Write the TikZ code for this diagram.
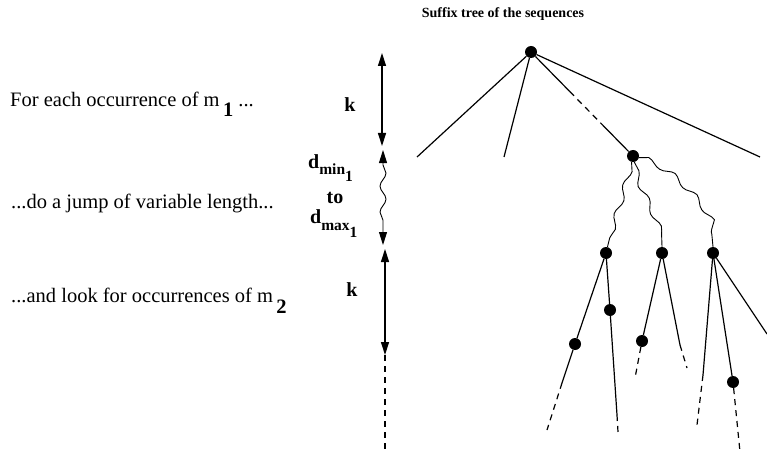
\documentclass[tikz,border=0pt]{standalone}
\usepackage{fontspec}
\setmainfont{Liberation Serif}
\usetikzlibrary{arrows.meta,decorations.pathmorphing,calc}
\begin{document}
\begin{tikzpicture}[x=1pt,y=-1pt,
  >={Triangle[length=13pt,width=8pt]},
  dot/.style={circle,fill,inner sep=0pt,minimum size=12pt},
  edge/.style={line width=1.2pt},
  dashedge/.style={line width=1.2pt,dash pattern=on 6pt off 5pt},
  wavy/.style={line width=0.9pt,decorate,decoration={snake,amplitude=2.8pt,segment length=30pt}},
  dbl/.style={line width=1.3pt,<->},
  body/.style={font=\fontsize{20.5}{24}\selectfont,anchor=base west,inner sep=0pt},
  lbl/.style={font=\fontsize{20}{22}\selectfont\bfseries,inner sep=0pt,anchor=base}]
\useasboundingbox (0,0) rectangle (767,457);

% title
\node[font=\fontsize{14}{16}\selectfont\bfseries,anchor=base] (title) at (503,18) {Suffix tree of the sequences};

% left texts
\node[body] (txt1) at (10,107) {For each occurrence of m\,\raisebox{-10pt}{\textbf{1}} ...};
\node[body] (txt2) at (11,208) {...do a jump of variable length...};
\node[body] (txt3) at (11,302) {...and look for occurrences of m\,\raisebox{-11pt}{\textbf{2}}};

% axis
\coordinate (a1) at (382,53);
\coordinate (a2) at (382,146);
\coordinate (w1) at (383,150);
\coordinate (w2) at (383,245);
\coordinate (b1) at (385,249);
\coordinate (b2) at (385,355);
\coordinate (b3) at (385,452);
\draw[dbl] (a1) -- (a2);
\draw[line width=0.9pt,<->,decorate,decoration={snake,amplitude=3pt,segment length=26pt,pre length=15pt,post length=15pt}] (w1) -- (w2);
\draw[dbl] (b1) -- (b2);
\draw[dashedge] (b2) -- (b3);

\node[lbl] (k1) at (350,112) {k};
\node[lbl] (k2) at (352,296) {k};
\node[anchor=base west,inner sep=0pt] (dmin) at (308,168)
  {\fontsize{20}{22}\selectfont\bfseries d\raisebox{-6pt}{\fontsize{15.5}{17}\selectfont min\raisebox{-7pt}{1}}};
\node[lbl] (to) at (335,203) {to};
\node[anchor=base west,inner sep=0pt] (dmax) at (310,223)
  {\fontsize{20}{22}\selectfont\bfseries d\raisebox{-7pt}{\fontsize{15.5}{17}\selectfont max\raisebox{-7pt}{1}}};

% tree
\node[dot] (r) at (531,52) {};
\node[dot] (n) at (633,156) {};
\coordinate (l1) at (417,157);
\coordinate (l2) at (504,157);
\coordinate (l3) at (760,157);
\draw[edge] (r) -- (l1);
\draw[edge] (r) -- (l2);
\draw[edge] (r) -- (l3);
\coordinate (rd1) at ($(r)!0.38!(n)$);
\coordinate (rd2) at ($(r)!0.68!(n)$);
\draw[edge] (r) -- (rd1);
\draw[dashedge] (rd1) -- (rd2);
\draw[edge] (rd2) -- (n);

\node[dot] (a) at (606,253) {};
\node[dot] (b) at (662,253) {};
\node[dot] (c) at (713,253) {};
\draw[wavy] (n) .. controls (626,185) and (614,220) .. (a);
\draw[wavy] (n) .. controls (640,190) and (662,215) .. (b);
\draw[wavy] (n) .. controls (665,165) and (713,212) .. (c);

\node[dot] (d) at (575,344) {};
\node[dot] (e) at (610,310) {};
\node[dot] (f) at (642,341) {};
\node[dot] (g) at (733,382) {};

\coordinate (d1) at (562,383);
\coordinate (d2) at (547,430);
\coordinate (e1) at (617,415);
\coordinate (e2) at (618,432);
\coordinate (f1) at (635,378);
\coordinate (b1) at (680,345);
\coordinate (b2) at (687,368);
\coordinate (c1) at (703,375);
\coordinate (c2) at (697,425);
\coordinate (g1) at (740,452);
\coordinate (c3) at (767,334);

\draw[edge] (a) -- (d);
\draw[edge] (d) -- (d1);
\draw[dashedge] (d1) -- (d2);
\draw[edge] (a) -- (e);
\draw[edge] (e) -- (e1);
\draw[dashedge] (e1) -- (e2);
\draw[edge] (b) -- (f);
\draw[dashedge] (f) -- (f1);
\draw[edge] (b) -- (b1);
\draw[dashedge] (b1) -- (b2);
\draw[edge] (c) -- (c1);
\draw[dashedge] (c1) -- (c2);
\draw[edge] (c) -- (g);
\draw[dashedge] (g) -- (g1);
\draw[edge] (c) -- (c3);
\end{tikzpicture}
\end{document}
